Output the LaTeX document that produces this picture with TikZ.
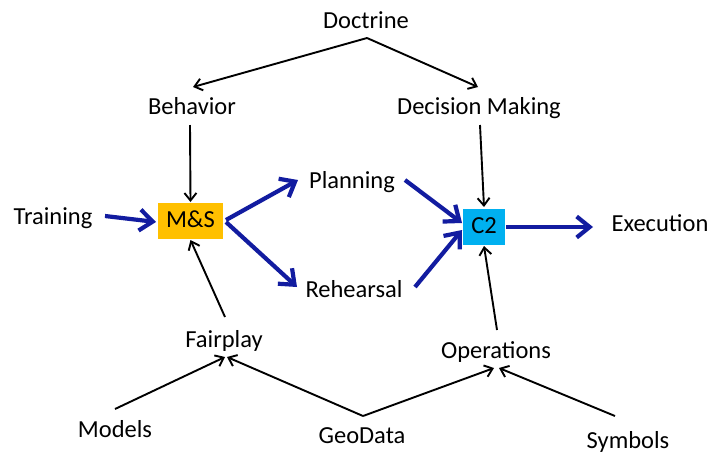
\documentclass[tikz,border=0pt]{standalone}
\usepackage{fontspec}
\setmainfont{Carlito}
\usetikzlibrary{arrows.meta,calc}
\definecolor{msorange}{RGB}{255,192,0}
\definecolor{ctwo}{RGB}{0,176,240}
\definecolor{flowblue}{RGB}{18,28,160}
\begin{document}
\begin{tikzpicture}[x=1pt,y=-1pt,
  lbl/.style={font=\fontsize{24.5}{28}\selectfont, inner sep=0pt, text height=17pt, text depth=5pt},
  box/.style={lbl, minimum height=36pt},
  thinarrow/.style={draw=black, line width=1.9pt, -{Straight Barb[length=7.5pt,width=12pt]}},
  flow/.style={draw=flowblue, line width=4.2pt, -{Straight Barb[length=13pt,width=21pt]}}]
\useasboundingbox (0,0) rectangle (711,453);

\node[lbl] (Doc) at (366,22) {Doctrine};
\node[lbl] (Beh) at (192,108) {Behavior};
\node[lbl] (DM) at (479,108) {Decision Making};
\node[lbl] (Tr) at (53,218) {Training};
\node[box, fill=msorange, minimum width=65pt] (MS) at (190.5,221) {M\&S};
\node[lbl] (Pl) at (352,182) {Planning};
\node[lbl] (Re) at (354,291) {Rehearsal};
\node[box, fill=ctwo, minimum width=42pt] (C2) at (484,227) {C2};
\node[lbl] (Ex) at (660,225) {Execution};
\node[lbl] (Fp) at (224,341) {Fairplay};
\node[lbl] (Op) at (496,352) {Operations};
\node[lbl] (Mo) at (115,431) {Models};
\node[lbl] (Geo) at (362,437) {GeoData};
\node[lbl] (Sy) at (628,442) {Symbols};

% black connectors
\draw[thinarrow] ($(Doc)+(1,16)$) -- ($(Beh)+(1,-21)$);
\draw[thinarrow] ($(Doc)+(1,16)$) -- ($(DM)+(-1,-21)$);
\draw[thinarrow] ($(Beh)+(-2,17)$) -- ($(MS)+(0,-19)$);
\draw[thinarrow] ($(DM)+(1,17)$) -- ($(C2)+(0,-20)$);
\draw[thinarrow] ($(Fp)+(1,-24)$) -- ($(MS)+(0,19)$);
\draw[thinarrow] ($(Op)+(1,-22)$) -- ($(C2)+(0,19)$);
\draw[thinarrow] ($(Mo)+(0,-22)$) -- ($(Fp)+(1,16)$);
\draw[thinarrow] ($(Geo)+(1,-21)$) -- ($(Fp)+(3,16)$);
\draw[thinarrow] ($(Geo)+(1,-21)$) -- ($(Op)+(-2,16)$);
\draw[thinarrow] ($(Sy)+(-13,-26)$) -- ($(Op)+(3,16)$);

% blue flow connectors
\draw[flow] ($(Tr)+(52,-2)$) -- ($(MS)+(-34.5,1)$);
\draw[flow] ($(MS)+(35.5,-1)$) -- ($(Pl)+(-54,-2)$);
\draw[flow] ($(MS)+(35.5,1)$) -- ($(Re)+(-57,-4)$);
\draw[flow] ($(Pl)+(53,-2)$) -- ($(C2)+(-22,-4)$);
\draw[flow] ($(Re)+(61,-4)$) -- ($(C2)+(-22,3)$);
\draw[flow] ($(C2)+(22,0)$) -- ($(Ex)+(-67,2)$);
\end{tikzpicture}
\end{document}
